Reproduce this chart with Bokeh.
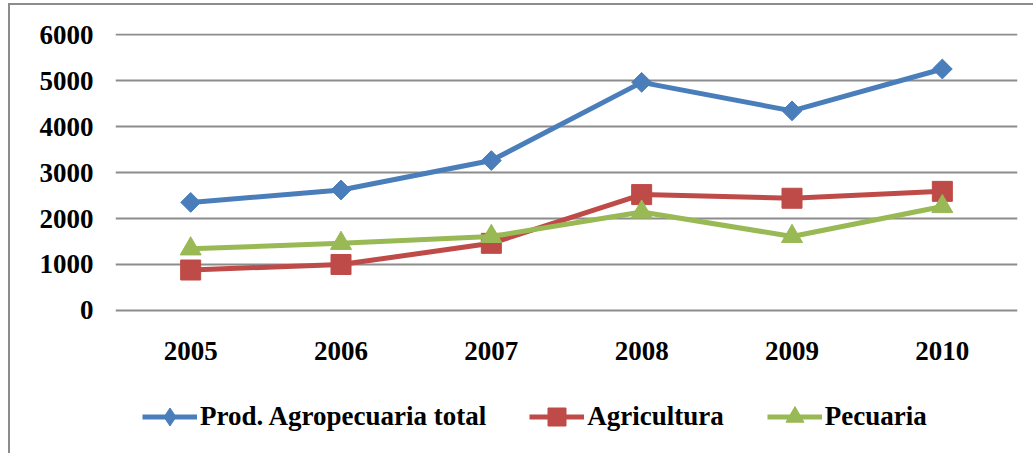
import math
from bokeh.plotting import figure
from bokeh.models import FactorRange, Range1d, Legend, LegendItem, FixedTicker, ColumnDataSource
from bokeh.embed import file_html
from bokeh.resources import INLINE

years = ["2005", "2006", "2007", "2008", "2009", "2010"]
total = [2350, 2620, 3260, 4960, 4340, 5250]
agricultura = [880, 1000, 1460, 2520, 2440, 2590]
pecuaria = [1340, 1460, 1610, 2140, 1610, 2260]
labels = ["Prod. Agropecuaria total", "Agricultura", "Pecuaria"]
yticks = [0, 1000, 2000, 3000, 4000, 5000, 6000]

FONT = "Liberation Serif"
FS = "27px"
GRAY = "#8c8c8c"

p = figure(width=1033, height=453, output_backend="svg", toolbar_location=None,
           x_range=FactorRange(factors=years, range_padding=0),
           y_range=Range1d(-3109, 6022),
           min_border_left=115, min_border_right=16, min_border_top=33, min_border_bottom=0)
p.styles = {
    "background-image": f"linear-gradient({GRAY}, {GRAY}), linear-gradient({GRAY}, {GRAY})",
    "background-size": "2px 100%, 100% 2px",
    "background-position": "8px 3px, 8px 3px",
    "background-repeat": "no-repeat",
}
p.outline_line_color = None
p.background_fill_alpha = 0
p.border_fill_alpha = 0

p.xgrid.grid_line_color = None
p.ygrid.grid_line_color = GRAY
p.ygrid.grid_line_width = 2
p.yaxis.ticker = FixedTicker(ticks=yticks)
p.xaxis.fixed_location = 0

for ax in (p.xaxis[0], p.yaxis[0]):
    ax.axis_line_color = None
    ax.major_tick_line_color = None
    ax.minor_tick_line_color = None
    ax.major_tick_in = 0
    ax.major_tick_out = 0
    ax.major_label_text_font = FONT
    ax.major_label_text_font_style = "bold"
    ax.major_label_text_font_size = FS
    ax.major_label_text_color = "black"
p.yaxis.major_label_standoff = 22
p.xaxis.major_label_standoff = 32

series = [
    (total, "#4A7EBB", "diamond"),
    (agricultura, "#BE4B48", "square"),
    (pecuaria, "#98B954", "triangle"),
]
items = []
for (vals, color, marker), lab in zip(series, labels):
    src = ColumnDataSource(dict(x=years, y=vals))
    lr = p.line("x", "y", source=src, line_color=color, line_width=5)
    if marker == "diamond":
        sr = p.scatter("x", "y", source=src, marker="diamond", size=14,
                       fill_color=color, line_color=color)
        p.scatter("x", "y", source=src, marker="square", size=14, angle=math.pi / 4,
                  fill_color=color, line_color=color)
    elif marker == "square":
        sr = p.scatter("x", "y", source=src, marker="square", size=20,
                       fill_color=color, line_color=color)
    else:
        sr = p.scatter("x", "y", source=src, marker="triangle", size=21,
                       fill_color=color, line_color=color)
    items.append(LegendItem(label=lab, renderers=[lr, sr]))

legend = Legend(items=items, orientation="horizontal", location=(27, 14),
                glyph_width=55, glyph_height=45, label_standoff=3, spacing=43,
                padding=0, margin=0, border_line_color=None, background_fill_alpha=0,
                label_text_font=FONT, label_text_font_style="bold",
                label_text_font_size=FS, label_text_color="black")
p.add_layout(legend, "center")

open("out.html", "w").write(file_html(p, INLINE))
